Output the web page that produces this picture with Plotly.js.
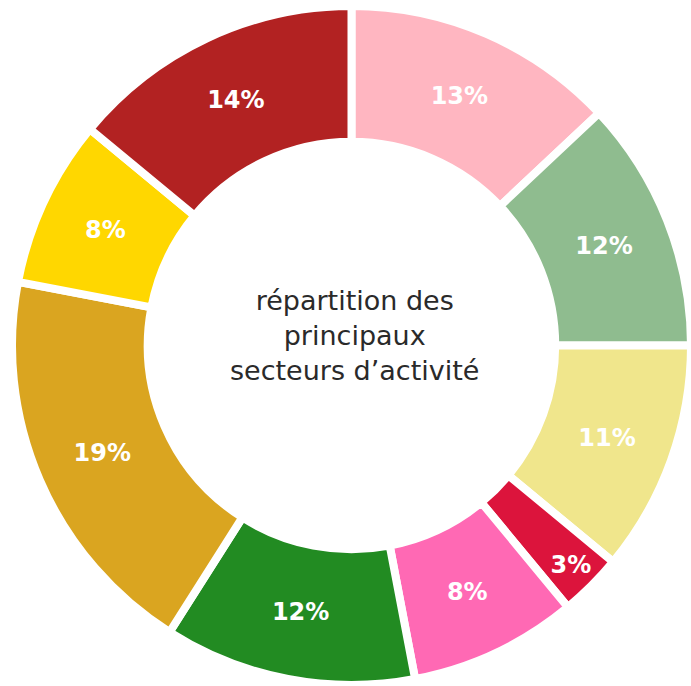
<!DOCTYPE html>
<html>
<head>
<meta charset="utf-8">
<script src="https://cdn.plot.ly/plotly-3.0.1.min.js"></script>
<style>html,body{margin:0;padding:0;background:#fff;}#chart{width:691px;height:686px;}</style>
</head>
<body>
<div id="chart"></div>
<script>
const sectors = ["Secteur 1","Secteur 2","Secteur 3","Secteur 4","Secteur 5","Secteur 6","Secteur 7","Secteur 8","Secteur 9"];
const shares = [13, 12, 11, 3, 8, 12, 19, 8, 14];
const colors = ["#FFB6C1","#8FBC8F","#F0E68C","#DC143C","#FF69B4","#228B22","#DAA520","#FFD700","#B22222"];
const centerText = "répartition des<br>principaux<br>secteurs d’activité";

Plotly.newPlot("chart", [{
  type: "pie",
  labels: sectors,
  values: shares,
  hole: 0.6,
  sort: false,
  direction: "clockwise",
  rotation: 0,
  marker: {colors: colors, line: {color: "#ffffff", width: 8}},
  texttemplate: "%{value}%",
  textposition: "inside",
  insidetextorientation: "horizontal",
  textfont: {family: "DejaVu Sans, sans-serif", size: 24, color: "#ffffff", weight: 700},
  showlegend: false,
  hoverinfo: "label+percent"
}], {
  width: 691, height: 686,
  margin: {l: 12, r: 0, t: 5, b: 0},
  paper_bgcolor: "#ffffff",
  annotations: [{
    text: centerText, showarrow: false, x: 0.505, y: 0.515, xref: "paper", yref: "paper",
    font: {family: "DejaVu Sans, sans-serif", size: 27, color: "#2a2a2a", weight: 400}
  }]
}, {displayModeBar: false});
</script>
</body>
</html>
